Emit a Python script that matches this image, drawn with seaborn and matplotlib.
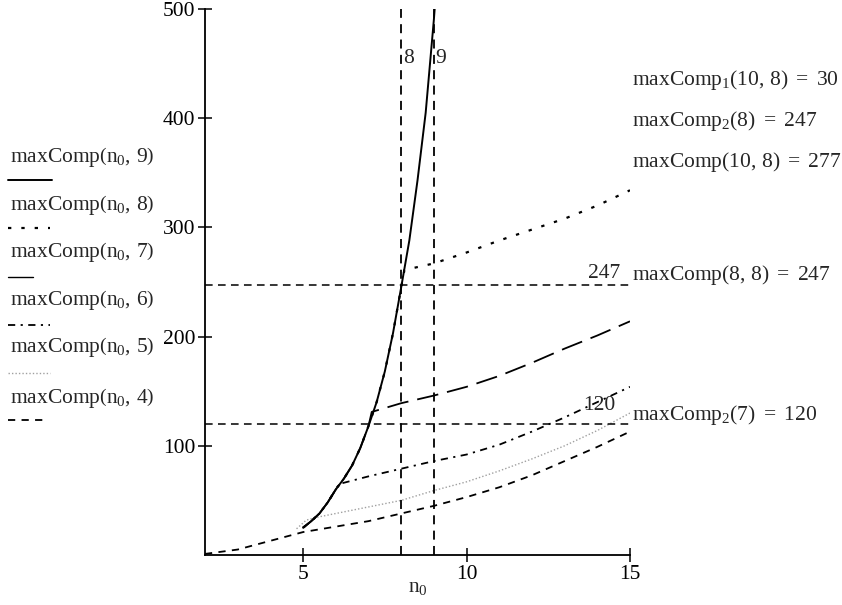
import matplotlib
matplotlib.use("Agg")
import matplotlib.pyplot as plt
from matplotlib.lines import Line2D
import seaborn as sns

# shared steep part of maxComp(n0, k)
steep_n0 = [5.0, 5.25, 5.5, 5.75, 6.0, 6.25, 6.5, 6.75, 7.0, 7.25, 7.5, 7.75,
            8.0, 8.25, 8.5, 8.75, 9.0, 9.1]
steep_val = [25, 31, 38, 48, 60, 70, 82, 98, 118, 140, 168, 203,
             245, 288, 343, 405, 490, 530]

# k = 4 (starts at n0 = 2)
k4_n0 = [2.0, 3.0, 4.0, 4.5, 5.0, 6.0, 7.0, 8.0, 9.0, 10.0, 11.0, 12.0, 13.0, 14.0, 15.0]
k4_val = [1, 5, 13, 17, 21, 26, 31, 38, 45, 53, 62, 73, 86, 99, 113]

# k = 5 (gray)
k5_n0 = [4.8, 5.1, 5.5, 6.0, 7.0, 8.0, 9.0, 10.0, 11.0, 12.0, 13.0, 14.0, 15.0]
k5_val = [24, 32, 35, 38, 44, 50, 59, 67, 77, 88, 100, 114, 130]

# branches after the jump at n0 = k
k6_n0 = [6.1, 7.0, 8.0, 9.0, 10.0, 11.0, 12.0, 13.0, 14.0, 15.0]
k6_val = [65, 72, 79, 86, 92, 101, 113, 126, 140, 154]

k7_n0 = [7.1, 8.0, 9.0, 10.0, 11.0, 12.0, 13.0, 14.0, 15.0]
k7_val = [131, 139, 146, 154, 164, 176, 189, 201, 214]

k8_n0 = [8.1, 9.0, 10.0, 11.0, 12.0, 13.0, 14.0, 15.0]
k8_val = [261, 267, 277, 288, 298, 308, 320, 334]

marker_x = [8, 9]
marker_y = [247, 120]

W, H = 842, 605
FS = 15.5


def px(x, y):
    return x / W, 1 - y / H


sns.set_theme(style="white")
plt.rcParams["font.family"] = ["Liberation Serif", "DejaVu Serif"]
plt.rcParams["mathtext.fontset"] = "custom"
plt.rcParams["mathtext.rm"] = "Liberation Serif"
plt.rcParams["mathtext.it"] = "Liberation Serif:italic"
plt.rcParams["mathtext.bf"] = "Liberation Serif:bold"

fig = plt.figure(figsize=(W / 100, H / 100), dpi=100)
ax = fig.add_axes([205 / W, 1 - 555 / H, 425 / W, 546 / H])

styles = {
    9: dict(color="black", lw=1.4, linestyle="-"),
    8: dict(color="black", lw=1.6, linestyle=(0, (1.5, 4.5))),
    7: dict(color="black", lw=1.3, linestyle=(0, (12, 5))),
    6: dict(color="black", lw=1.3, linestyle=(0, (4, 3, 1.2, 3))),
    5: dict(color="#a0a0a0", lw=1.0, linestyle=(0, (1, 1.5))),
    4: dict(color="black", lw=1.3, linestyle=(0, (4, 3.5))),
}


def curve(k, bx, by):
    xs = [x for x in steep_n0 if x <= k] + bx
    ys = [y for x, y in zip(steep_n0, steep_val) if x <= k] + by
    return xs, ys


series = {
    4: (k4_n0, k4_val),
    5: (k5_n0, k5_val),
    6: curve(6, k6_n0, k6_val),
    7: curve(7, k7_n0, k7_val),
    8: curve(8, k8_n0, k8_val),
    9: (steep_n0, steep_val),
}

for k in [4, 5, 6, 7, 8, 9]:
    xs, ys = series[k]
    sns.lineplot(x=xs, y=ys, ax=ax, estimator=None, sort=False, **styles[k])

# marker lines
for mx in marker_x:
    ax.axvline(mx, color="black", lw=1.3, linestyle=(0, (5, 3.5)))
for my in marker_y:
    ax.axhline(my, color="black", lw=1.1, linestyle=(0, (5, 3.5)))

ax.text(8.07, 455, "8", fontsize=FS, ha="left", va="center")
ax.text(9.05, 455, "9", fontsize=FS, ha="left", va="center")
ax.text(14.2, 258, "247", fontsize=FS, ha="center", va="center")
ax.text(14.05, 137, "120", fontsize=FS, ha="center", va="center")

ax.set_xlim(2, 15)
ax.set_ylim(0, 500)
ax.set_xticks([5, 10, 15])
ax.set_yticks([100, 200, 300, 400, 500])
ax.tick_params(direction="inout", length=10, width=1.1, labelsize=FS,
               colors="black", left=True, bottom=True, pad=2)
for side in ["top", "right"]:
    ax.spines[side].set_visible(False)
for side in ["left", "bottom"]:
    ax.spines[side].set_color("black")
    ax.spines[side].set_linewidth(1.3)
ax.patch.set_alpha(0)
ax.set_xlabel(r"$\mathrm{n}_0$", fontsize=FS, labelpad=-4)

# left legend
legend_rows = [
    (9, 157, 180, 52),
    (8, 205, 228, 50),
    (7, 252, 277, 33),
    (6, 300, 325, 50),
    (5, 347, 373, 50),
    (4, 398, 420, 43),
]
for k, ty, ly, lx in legend_rows:
    fig.text(*px(10, ty), r"$\mathrm{maxComp}\left(\mathrm{n}_0,\, %d\right)$" % k,
             fontsize=FS, ha="left", va="center")
    st = dict(styles[k])
    if k == 7:
        st["linestyle"] = "-"
        st["lw"] = 1.0
    x0, y0 = px(8, ly)
    x1, _ = px(lx, ly)
    fig.add_artist(Line2D([x0, x1], [y0, y0], transform=fig.transFigure, **st))

# right annotations
right_texts = [
    (80, r"$\mathrm{maxComp}_1\mathrm{(10,\, 8)\ =\ 30}$"),
    (121, r"$\mathrm{maxComp}_2\mathrm{(8)\ =\ 247}$"),
    (162, r"$\mathrm{maxComp(10,\, 8)\ =\ 277}$"),
    (275, r"$\mathrm{maxComp(8,\, 8)\ =\ 247}$"),
    (415, r"$\mathrm{maxComp}_2\mathrm{(7)\ =\ 120}$"),
]
for ty, s in right_texts:
    fig.text(*px(632, ty), s, fontsize=FS, ha="left", va="center")

fig.savefig("out.png", dpi=100, facecolor="white")
